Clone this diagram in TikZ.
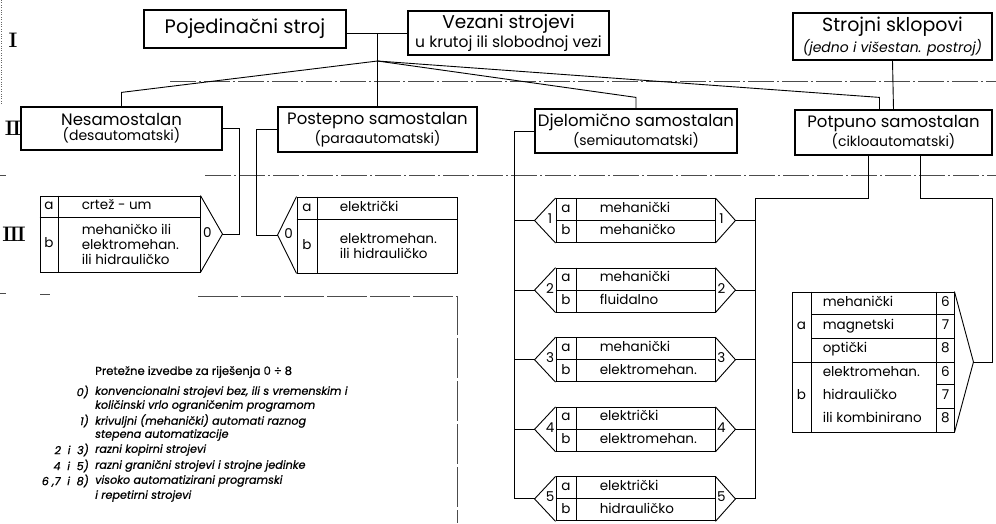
\documentclass[tikz,border=0pt]{standalone}
\usepackage{fontspec}
\setsansfont{Poppins}
\usetikzlibrary{positioning,calc}

\newcommand{\fsz}[1]{\fontsize{#1}{#1}\selectfont}

\tikzset{
  every node/.style={font=\sffamily},
  lvlbox/.style={draw, line width=1.2pt, inner sep=0pt, align=center},
  tblbox/.style={draw, line width=0.9pt, inner sep=0pt},
  tblline/.style={line width=0.9pt},
  conn/.style={line width=0.9pt},
  sepline/.style={line width=0.5pt, black!70, dash pattern=on 26pt off 3pt on 2pt off 3pt},
  cell/.style={inner sep=0pt, font=\sffamily\fsz{13.5}, text height=9pt, text depth=3pt},
  cellml/.style={inner sep=0pt, font=\sffamily\fontsize{13.5}{15}\selectfont, align=left},
  roman/.style={font=\rmfamily\bfseries\fsz{21}, inner sep=0pt},
  legtxt/.style={inner sep=0pt, font=\sffamily\addfontfeature{FakeBold=0.6}\fsz{11.6}, anchor=west},
  legit/.style={inner sep=0pt, font=\sffamily\itshape\addfontfeature{FakeBold=0.8}\fsz{11.2}, anchor=west}
}

\begin{document}
\begin{tikzpicture}[x=1pt,y=-1pt]
\useasboundingbox (0,0) rectangle (996,523);

% level markers and separators
\node[roman] (rI) at (13,40) {I};
\node[roman] (rII) at (13,128) {I\kern-1.5pt I};
\node[roman] (rIII) at (14,234) {I\kern-1.5pt I\kern-1.5pt I};
\draw[dotted, black!60] (1,0) -- (1,105);
\draw[sepline] (170,81) -- (996,81);
\draw[sepline] (0,175) -- (6,175);
\draw[sepline] (205,175) -- (996,175);
\draw[sepline] (0,293) -- (6,293) (40,294) -- (50,294);

% level I
\node[lvlbox, minimum width=202, minimum height=38, font=\sffamily\fsz{19.5}] (poj) at (245,29) {Pojedinačni stroj};
\node[lvlbox, minimum width=201, minimum height=44] (vez) at (508.5,33)
  {{\fsz{18.5}Vezani strojevi}\\[1pt]{\fsz{15.5}u krutoj ili slobodnoj vezi}};
\node[lvlbox, minimum width=199, minimum height=47] (strs) at (892.5,36.5)
  {{\fsz{19}Strojni sklopovi}\\[2pt]{\itshape\fsz{14}(jedno i višestan. postroj)}};

% level II
\node[lvlbox, minimum width=201, minimum height=43] (nes) at (121.5,128.5)
  {{\fsz{16.5}Nesamostalan}\\[1pt]{\fsz{14}(desautomatski)}};
\node[lvlbox, minimum width=199, minimum height=45] (post) at (377.5,129.5)
  {{\fsz{16.5}Postepno samostalan}\\[1pt]{\fsz{14}(paraautomatski)}};
\node[lvlbox, minimum width=202, minimum height=44] (djel) at (636,131)
  {{\fsz{16.5}Djelomično samostalan}\\[1pt]{\fsz{14}(semiautomatski)}};
\node[lvlbox, minimum width=197, minimum height=45] (pot) at (893.5,132.5)
  {{\fsz{16.5}Potpuno samostalan}\\[1pt]{\fsz{14}(cikloautomatski)}};

% links I -> II
\coordinate (mid) at (post.north |- vez.west);
\coordinate (apex) at ([yshift=-28pt]mid);
\draw[conn] (poj.east |- vez.west) -- (vez.west);
\draw[conn] (mid) -- (post.north);
\draw[conn] (apex) -- ([yshift=14pt]nes.north) -- (nes.north);
\draw[conn] (apex) -- ([yshift=11pt]djel.north) -- (djel.north);
\draw[conn] (apex) -- ([xshift=-14pt,yshift=12pt]pot.north) -- ([xshift=-14pt]pot.north);
\draw[conn] (strs.south) -- (pot.north);

% level III, solution 0 (left)
\node[tblbox, minimum width=160, minimum height=76] (t0l) at (120,234) {};
\draw[tblline] ([xshift=19pt]t0l.north west) -- ([xshift=19pt]t0l.south west);
\draw[tblline] ([yshift=-22pt]t0l.north west) -- ([yshift=-22pt]t0l.north east);
\coordinate (t0l tip) at ([xshift=22pt]t0l.east);
\draw[tblline] (t0l.north east) -- (t0l tip) -- (t0l.south east);
\node[cell] (t0l a) at ([xshift=9.5pt,yshift=-11pt]t0l.north west) {a};
\node[cell] (t0l b) at ([xshift=9.5pt,yshift=-49pt]t0l.north west) {b};
\node[cell, anchor=west] (t0l a1) at ([xshift=42pt,yshift=-11pt]t0l.north west) {crtež - um};
\node[cellml, anchor=west] (t0l b1) at ([xshift=42pt,yshift=-49pt]t0l.north west)
  {mehaničko ili\\elektromehan.\\ili hidrauličko};
\node[cell] (t0l n) at ([xshift=7pt]t0l.east) {0};

% level III, solution 0 (right)
\node[tblbox, minimum width=160, minimum height=76] (t0r) at (377,235) {};
\draw[tblline] ([xshift=21pt]t0r.north west) -- ([xshift=21pt]t0r.south west);
\draw[tblline] ([yshift=-23pt]t0r.north west) -- ([yshift=-23pt]t0r.north east);
\coordinate (t0r tip) at ([xshift=-19pt]t0r.west);
\draw[tblline] (t0r.north west) -- (t0r tip) -- (t0r.south west);
\node[cell] (t0r a) at ([xshift=10.5pt,yshift=-11.5pt]t0r.north west) {a};
\node[cell] (t0r b) at ([xshift=10.5pt,yshift=-50pt]t0r.north west) {b};
\node[cell, anchor=west] (t0r a1) at ([xshift=43pt,yshift=-11.5pt]t0r.north west) {električki};
\node[cellml, anchor=west] (t0r b1) at ([xshift=43pt,yshift=-50pt]t0r.north west)
  {elektromehan.\\ili hidrauličko};
\node[cell] (t0r n) at ([xshift=-8pt]t0r.west) {0};

\draw[conn] (nes.east) -- ++(17,0) |- (t0l tip);
\draw[conn] (post.west) -- ++(-21,0) |- (t0r tip);

% level III, solutions 1 to 5
\foreach \i/\ta/\tb [count=\k from 0] in {1/mehanički/mehaničko, 2/mehanički/fluidalno,
    3/mehanički/elektromehan., 4/električki/elektromehan., 5/električki/hidrauličko} {
  \node[tblbox, minimum width=159, minimum height=44] (t\i) at ({635.5},{220.5+69.6*\k}) {};
  \draw[tblline] ([xshift=21pt]t\i.north west) -- ([xshift=21pt]t\i.south west);
  \draw[tblline] (t\i.west) -- (t\i.east);
  \coordinate (L\i) at ([xshift=-21pt]t\i.west);
  \coordinate (R\i) at ([xshift=20pt]t\i.east);
  \draw[tblline] (t\i.north west) -- (L\i) -- (t\i.south west);
  \draw[tblline] (t\i.north east) -- (R\i) -- (t\i.south east);
  \node[cell] (t\i a) at ([xshift=10.5pt,yshift=-11pt]t\i.north west) {a};
  \node[cell] (t\i b) at ([xshift=10.5pt,yshift=11pt]t\i.south west) {b};
  \node[cell, anchor=west] (t\i a1) at ([xshift=44pt,yshift=-11pt]t\i.north west) {\ta};
  \node[cell, anchor=west] (t\i b1) at ([xshift=44pt,yshift=11pt]t\i.south west) {\tb};
  \node[cell] (t\i nl) at ([xshift=-5.5pt]t\i.west) {\i};
  \node[cell] (t\i nr) at ([xshift=6pt]t\i.east) {\i};
}
\coordinate (busL) at ([xshift=-20pt]djel.west);
\draw[conn] (djel.west) -- (busL) -- (busL |- L5);
\coordinate (potL) at ([xshift=-25pt]pot.south);
\coordinate (busR) at (755,198);
\draw[conn] (potL) |- (busR) -- (busR |- R5);
\foreach \i in {1,...,5} {
  \draw[conn] (L\i) -- (busL |- L\i);
  \draw[conn] (R\i) -- (busR |- R\i);
}

% level III, solutions 6 to 8
\node[tblbox, minimum width=162, minimum height=140] (t678) at (873,362) {};
\draw[tblline] ([xshift=20pt]t678.north west) -- ([xshift=20pt]t678.south west);
\draw[tblline] ([xshift=-18pt]t678.north east) -- ([xshift=-18pt]t678.south east);
\draw[tblline] (t678.west) -- (t678.east);
\draw[tblline] ([xshift=20pt,yshift=-23.3pt]t678.north west) -- ([yshift=-23.3pt]t678.north east);
\draw[tblline] ([xshift=20pt,yshift=-46.7pt]t678.north west) -- ([yshift=-46.7pt]t678.north east);
\draw[tblline] ([xshift=-18pt,yshift=-93.3pt]t678.north east) -- ([yshift=-93.3pt]t678.north east);
\draw[tblline] ([xshift=-18pt,yshift=-116.7pt]t678.north east) -- ([yshift=-116.7pt]t678.north east);
\foreach \txt/\num [count=\r from 0] in {mehanički/6, magnetski/7, optički/8,
    elektromehan./6, hidrauličko/7, ili kombinirano/8} {
  \node[cell, anchor=west] (t678 c\r) at ([xshift=31pt,yshift={-11.67-23.33*\r}]t678.north west) {\txt};
  \node[cell] (t678 n\r) at ([xshift=-9pt,yshift={-11.67-23.33*\r}]t678.north east) {\num};
}
\node[cell] (t678 a) at ([xshift=10pt,yshift=-35pt]t678.north west) {a};
\node[cell] (t678 b) at ([xshift=10pt,yshift=-105pt]t678.north west) {b};
\coordinate (tip678) at ([xshift=19pt]t678.east);
\draw[tblline] (t678.north east) -- (tip678) -- (t678.south east);
\coordinate (potR) at ([xshift=27pt]pot.south);
\draw[conn] (potR) |- ([xshift=19pt]tip678 |- busR) |- (tip678);

% legend
\draw[sepline, dash pattern=on 40pt off 3pt] (198,296) -- (457,296) -- (457,523);
\node[legtxt] (lg0) at (95,372) {Pretežne izvedbe za riješenja 0 ÷ 8};
\node[legit, anchor=east] (lk0) at (89,392) {0)};
\node[legit] (lg1) at (95,392) {konvencionalni strojevi bez, ili s vremenskim i};
\node[legit] (lg2) at (95,406) {količinski vrlo ograničenim programom};
\node[legit, anchor=east] (lk1) at (89,421) {1)};
\node[legit] (lg3) at (95,421) {krivuljni (mehanički) automati raznog};
\node[legit] (lg4) at (95,435) {stepena automatizacije};
\node[legit, anchor=east] (lk2) at (89,450) {2~ i~ 3)};
\node[legit] (lg5) at (95,450) {razni kopirni strojevi};
\node[legit, anchor=east] (lk3) at (89,466) {4~ i~ 5)};
\node[legit] (lg6) at (95,466) {razni granični strojevi i strojne jedinke};
\node[legit, anchor=east] (lk4) at (89,481) {6~,7~ i~ 8)};
\node[legit] (lg7) at (95,481) {visoko automatizirani programski};
\node[legit] (lg8) at (95,496) {i repetirni strojevi};
\end{tikzpicture}
\end{document}
